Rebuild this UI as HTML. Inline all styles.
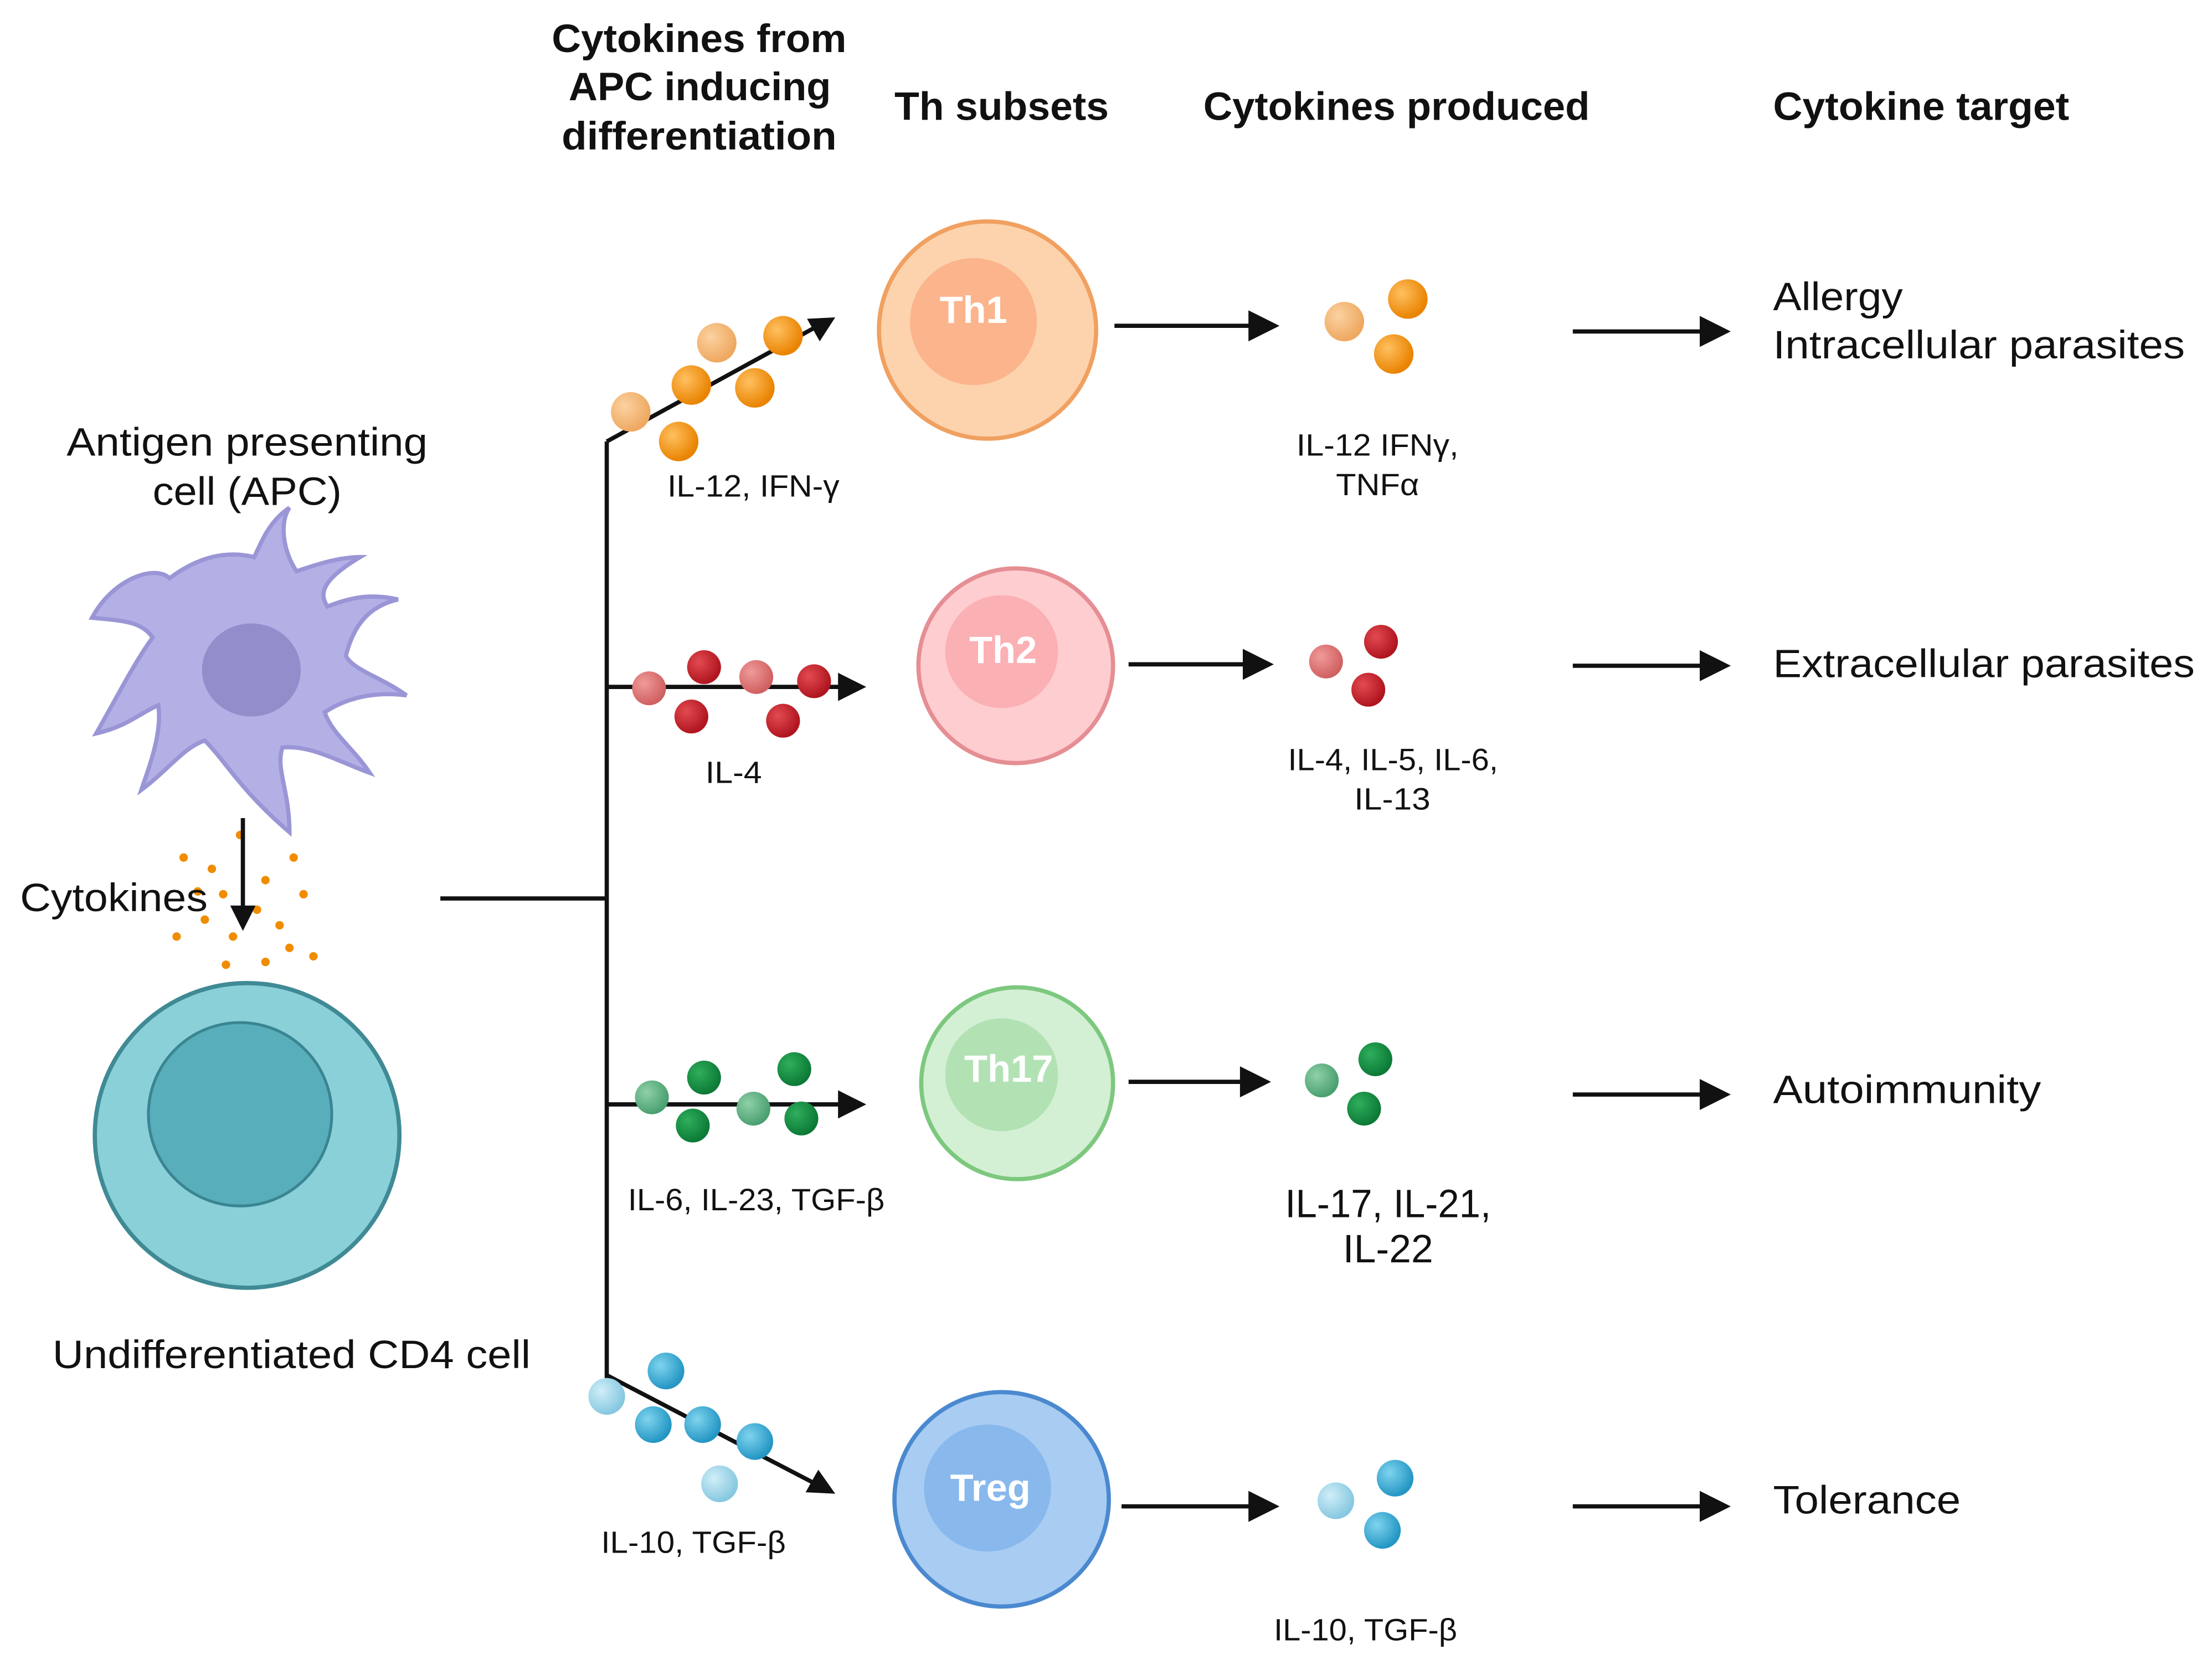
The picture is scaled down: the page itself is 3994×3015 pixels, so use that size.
<!DOCTYPE html>
<html><head><meta charset="utf-8"><style>
html,body{margin:0;padding:0;background:#fff;}
svg{display:block;}
text{font-family:"Liberation Sans",sans-serif;fill:#111;}
</style></head><body>
<svg width="3994" height="3015" viewBox="0 0 1568 1184" xmlns="http://www.w3.org/2000/svg">
<defs>
<radialGradient id="gO" cx="35%" cy="35%" r="65%"><stop offset="0" stop-color="#ffc060"/><stop offset="1" stop-color="#e98300"/></radialGradient>
<radialGradient id="gOl" cx="35%" cy="35%" r="65%"><stop offset="0" stop-color="#fbd2a0"/><stop offset="1" stop-color="#eea860"/></radialGradient>
<radialGradient id="gR" cx="35%" cy="35%" r="65%"><stop offset="0" stop-color="#e24a50"/><stop offset="1" stop-color="#b0151f"/></radialGradient>
<radialGradient id="gRl" cx="35%" cy="35%" r="65%"><stop offset="0" stop-color="#f09a9a"/><stop offset="1" stop-color="#d06060"/></radialGradient>
<radialGradient id="gG" cx="35%" cy="35%" r="65%"><stop offset="0" stop-color="#2fae5c"/><stop offset="1" stop-color="#0c7a36"/></radialGradient>
<radialGradient id="gGl" cx="35%" cy="35%" r="65%"><stop offset="0" stop-color="#8fd0a8"/><stop offset="1" stop-color="#4aa070"/></radialGradient>
<radialGradient id="gC" cx="35%" cy="35%" r="65%"><stop offset="0" stop-color="#7fd4ee"/><stop offset="1" stop-color="#2496c4"/></radialGradient>
<radialGradient id="gCl" cx="35%" cy="35%" r="65%"><stop offset="0" stop-color="#d0eef8"/><stop offset="1" stop-color="#86c8e0"/></radialGradient>
</defs>

<!-- headers -->
<g font-weight="bold" font-size="28" lengthAdjust="spacingAndGlyphs">
<text x="391" y="37" textLength="209" lengthAdjust="spacingAndGlyphs">Cytokines from</text>
<text x="403" y="71" textLength="186" lengthAdjust="spacingAndGlyphs">APC inducing</text>
<text x="398" y="106" textLength="195" lengthAdjust="spacingAndGlyphs">differentiation</text>
<text x="634" y="85" textLength="152" lengthAdjust="spacingAndGlyphs">Th subsets</text>
<text x="853" y="85" textLength="274" lengthAdjust="spacingAndGlyphs">Cytokines produced</text>
<text x="1257" y="85" textLength="210" lengthAdjust="spacingAndGlyphs">Cytokine target</text>
</g>

<!-- APC -->
<text x="47" y="323" font-size="28" textLength="256" lengthAdjust="spacingAndGlyphs">Antigen presenting</text>
<text x="108" y="358" font-size="28" textLength="134" lengthAdjust="spacingAndGlyphs">cell (APC)</text>
<path d="M120,410 C110,400 80,410 65,438 C85,440 100,440 108,452 C95,470 85,490 68,520 C90,515 100,505 112,500 C115,520 105,545 100,560 C120,545 130,530 145,525 C160,540 170,560 205,590 C205,560 195,545 200,530 C220,528 240,540 262,548 C250,530 235,520 230,505 C245,495 265,490 288,493 C270,480 250,475 245,465 C250,445 260,430 282,425 C260,420 245,425 232,430 C225,420 230,410 255,395 C240,395 225,400 210,405 C200,390 198,370 205,360 C190,370 185,385 180,395 C160,390 140,395 120,410 Z" fill="#b3b0e6" stroke="#9a96d6" stroke-width="3"/>
<ellipse cx="178" cy="475" rx="35" ry="33" fill="#938dcc"/>

<g fill="#f08c00">
<circle cx="130" cy="608" r="3"/><circle cx="150" cy="616" r="3"/><circle cx="170" cy="592" r="3"/><circle cx="188" cy="624" r="3"/><circle cx="208" cy="608" r="3"/><circle cx="158" cy="634" r="3"/><circle cx="215" cy="634" r="3"/><circle cx="145" cy="652" r="3"/><circle cx="182" cy="645" r="3"/><circle cx="198" cy="656" r="3"/><circle cx="125" cy="664" r="3"/><circle cx="165" cy="664" r="3"/><circle cx="205" cy="672" r="3"/><circle cx="160" cy="684" r="3"/><circle cx="188" cy="682" r="3"/><circle cx="222" cy="678" r="3"/><circle cx="140" cy="632" r="3"/>
</g>
<line x1="172" y1="580" x2="172" y2="645" stroke="#111" stroke-width="3"/>
<polygon points="163,642 181,642 172,660" fill="#111"/>
<text x="14" y="646" font-size="28" textLength="133" lengthAdjust="spacingAndGlyphs">Cytokines</text>

<!-- CD4 -->
<circle cx="175" cy="805" r="108" fill="#8ad0d8" stroke="#3f8a95" stroke-width="3"/>
<circle cx="170" cy="790" r="65" fill="#58aebb" stroke="#3a8591" stroke-width="2"/>
<text x="37" y="970" font-size="28" textLength="339" lengthAdjust="spacingAndGlyphs">Undifferentiated CD4 cell</text>

<g stroke="#111" stroke-width="3" fill="none">
<line x1="312" y1="637" x2="431" y2="637"/>
<line x1="430" y1="313" x2="430" y2="977"/>
<line x1="430" y1="313" x2="578" y2="232"/>
<line x1="430" y1="487" x2="596" y2="487"/>
<line x1="430" y1="783" x2="596" y2="783"/>
<line x1="430" y1="975" x2="578" y2="1052"/>
</g>
<polygon points="592,225 572,226 581,242" fill="#111"/>
<polygon points="614,487 594,477 594,497" fill="#111"/>
<polygon points="614,783 594,773 594,793" fill="#111"/>
<polygon points="592,1059 571,1058 580,1042" fill="#111"/>

<g>
<circle cx="447" cy="292" r="14" fill="url(#gOl)"/><circle cx="508" cy="243" r="14" fill="url(#gOl)"/>
<circle cx="555" cy="238" r="14" fill="url(#gO)"/><circle cx="490" cy="273" r="14" fill="url(#gO)"/>
<circle cx="535" cy="275" r="14" fill="url(#gO)"/><circle cx="481" cy="313" r="14" fill="url(#gO)"/>
<circle cx="460" cy="488" r="12" fill="url(#gRl)"/><circle cx="536" cy="480" r="12" fill="url(#gRl)"/>
<circle cx="499" cy="473" r="12" fill="url(#gR)"/><circle cx="577" cy="483" r="12" fill="url(#gR)"/>
<circle cx="490" cy="508" r="12" fill="url(#gR)"/><circle cx="555" cy="511" r="12" fill="url(#gR)"/>
<circle cx="462" cy="778" r="12" fill="url(#gGl)"/><circle cx="534" cy="786" r="12" fill="url(#gGl)"/>
<circle cx="499" cy="764" r="12" fill="url(#gG)"/><circle cx="563" cy="758" r="12" fill="url(#gG)"/>
<circle cx="491" cy="798" r="12" fill="url(#gG)"/><circle cx="568" cy="793" r="12" fill="url(#gG)"/>
<circle cx="430" cy="990" r="13" fill="url(#gCl)"/><circle cx="510" cy="1052" r="13" fill="url(#gCl)"/>
<circle cx="472" cy="972" r="13" fill="url(#gC)"/><circle cx="463" cy="1010" r="13" fill="url(#gC)"/>
<circle cx="498" cy="1010" r="13" fill="url(#gC)"/><circle cx="535" cy="1022" r="13" fill="url(#gC)"/>
</g>

<g font-size="22">
<text x="473" y="352" textLength="122" lengthAdjust="spacingAndGlyphs">IL-12, IFN-γ</text>
<text x="500" y="555" textLength="40" lengthAdjust="spacingAndGlyphs">IL-4</text>
<text x="445" y="858" textLength="182" lengthAdjust="spacingAndGlyphs">IL-6, IL-23, TGF-β</text>
<text x="426" y="1101" textLength="131" lengthAdjust="spacingAndGlyphs">IL-10, TGF-β</text>
</g>

<circle cx="700" cy="234" r="77" fill="#fdd3ad" stroke="#f0a060" stroke-width="3"/>
<circle cx="690" cy="228" r="45" fill="#fbb48b"/>
<circle cx="720" cy="472" r="69" fill="#fecdd0" stroke="#e58e93" stroke-width="3"/>
<circle cx="710" cy="462" r="40" fill="#fbb0b3"/>
<circle cx="721" cy="768" r="68" fill="#d4f0d4" stroke="#7dc87f" stroke-width="3"/>
<circle cx="710" cy="762" r="40" fill="#b2e2b4"/>
<circle cx="710" cy="1063" r="76" fill="#a8ccf2" stroke="#4a89cf" stroke-width="3"/>
<circle cx="700" cy="1055" r="45" fill="#88b8ec"/>
<g font-size="27" font-weight="bold" text-anchor="middle">
<text x="690" y="229" style="fill:#fff">Th1</text>
<text x="711" y="470" style="fill:#fff">Th2</text>
<text x="715" y="767" style="fill:#fff">Th17</text>
<text x="702" y="1064" style="fill:#fff">Treg</text>
</g>

<g stroke="#111" stroke-width="3">
<line x1="790" y1="231" x2="888" y2="231"/>
<line x1="800" y1="471" x2="884" y2="471"/>
<line x1="800" y1="767" x2="882" y2="767"/>
<line x1="795" y1="1068" x2="888" y2="1068"/>
<line x1="1115" y1="235" x2="1208" y2="235"/>
<line x1="1115" y1="472" x2="1208" y2="472"/>
<line x1="1115" y1="776" x2="1208" y2="776"/>
<line x1="1115" y1="1068" x2="1208" y2="1068"/>
</g>
<g fill="#111">
<polygon points="907,231 885,220 885,242"/>
<polygon points="903,471 881,460 881,482"/>
<polygon points="901,767 879,756 879,778"/>
<polygon points="907,1068 885,1057 885,1079"/>
<polygon points="1227,235 1205,224 1205,246"/>
<polygon points="1227,472 1205,461 1205,483"/>
<polygon points="1227,776 1205,765 1205,787"/>
<polygon points="1227,1068 1205,1057 1205,1079"/>
</g>

<circle cx="953" cy="228" r="14" fill="url(#gOl)"/><circle cx="998" cy="212" r="14" fill="url(#gO)"/><circle cx="988" cy="251" r="14" fill="url(#gO)"/>
<circle cx="940" cy="469" r="12" fill="url(#gRl)"/><circle cx="979" cy="455" r="12" fill="url(#gR)"/><circle cx="970" cy="489" r="12" fill="url(#gR)"/>
<circle cx="937" cy="766" r="12" fill="url(#gGl)"/><circle cx="975" cy="751" r="12" fill="url(#gG)"/><circle cx="967" cy="786" r="12" fill="url(#gG)"/>
<circle cx="947" cy="1064" r="13" fill="url(#gCl)"/><circle cx="989" cy="1048" r="13" fill="url(#gC)"/><circle cx="980" cy="1085" r="13" fill="url(#gC)"/>

<g font-size="22">
<text x="919" y="323" textLength="115" lengthAdjust="spacingAndGlyphs">IL-12 IFNγ,</text>
<text x="947" y="351" textLength="59" lengthAdjust="spacingAndGlyphs">TNFα</text>
<text x="913" y="546" textLength="149" lengthAdjust="spacingAndGlyphs">IL-4, IL-5, IL-6,</text>
<text x="960" y="574" textLength="54" lengthAdjust="spacingAndGlyphs">IL-13</text>
<text x="903" y="1163" textLength="130" lengthAdjust="spacingAndGlyphs">IL-10, TGF-β</text>
</g>
<g font-size="28">
<text x="911" y="863" textLength="146" lengthAdjust="spacingAndGlyphs">IL-17, IL-21,</text>
<text x="952" y="895" textLength="64" lengthAdjust="spacingAndGlyphs">IL-22</text>
</g>

<g font-size="28">
<text x="1257" y="220" textLength="92" lengthAdjust="spacingAndGlyphs">Allergy</text>
<text x="1257" y="254" textLength="292" lengthAdjust="spacingAndGlyphs">Intracellular parasites</text>
<text x="1257" y="480" textLength="299" lengthAdjust="spacingAndGlyphs">Extracellular parasites</text>
<text x="1257" y="782" textLength="190" lengthAdjust="spacingAndGlyphs">Autoimmunity</text>
<text x="1257" y="1073" textLength="133" lengthAdjust="spacingAndGlyphs">Tolerance</text>
</g>
</svg>
</body></html>
